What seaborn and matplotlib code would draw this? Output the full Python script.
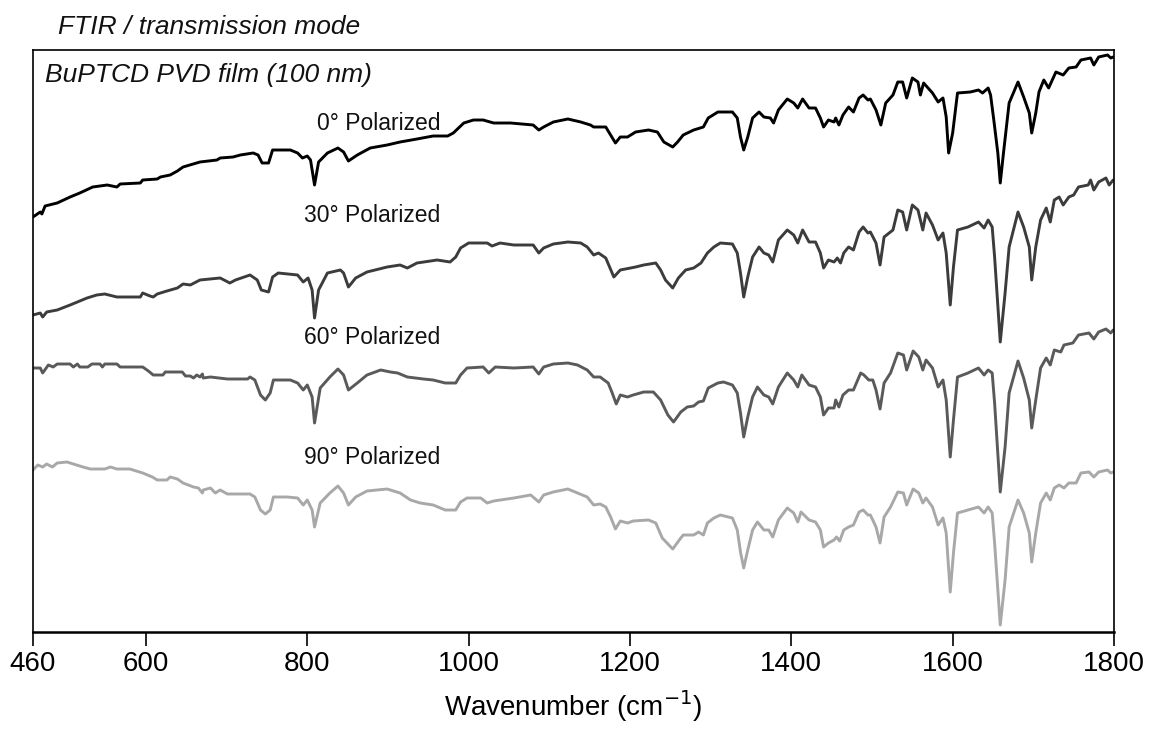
import pandas as pd
import matplotlib.pyplot as plt
import seaborn as sns

# wavenumber (cm-1) and transmission (a.u., offset per trace)
wn_0 = [460, 469, 471, 475, 490, 506, 518, 534, 552, 564, 568, 593, 596, 614, 618, 630, 639, 646,
        667, 688, 692, 708, 717, 733, 739, 744, 752, 757, 779, 788, 794, 800, 804, 809, 814, 825,
        838, 845, 851, 862, 878, 899, 915, 936, 956, 974, 981, 994, 1006, 1018, 1031, 1052, 1080,
        1087, 1093, 1105, 1123, 1139, 1151, 1155, 1170, 1176, 1182, 1188, 1197, 1207, 1223, 1234,
        1242, 1253, 1259, 1266, 1279, 1291, 1297, 1309, 1327, 1333, 1337, 1341, 1346, 1352, 1360,
        1366, 1374, 1378, 1384, 1395, 1403, 1408, 1414, 1422, 1430, 1436, 1440, 1446, 1453, 1455,
        1459, 1464, 1471, 1477, 1484, 1489, 1495, 1498, 1505, 1511, 1517, 1526, 1532, 1538, 1543,
        1550, 1557, 1560, 1564, 1575, 1582, 1588, 1592, 1595, 1600, 1606, 1622, 1632, 1637, 1644,
        1647, 1651, 1656, 1659, 1663, 1670, 1681, 1688, 1695, 1698, 1703, 1707, 1713, 1719, 1728,
        1737, 1744, 1753, 1759, 1771, 1775, 1781, 1792, 1796, 1799]
t_0 = [415, 420, 418, 426, 429, 435, 439, 445, 447, 445, 448, 449, 452, 453, 455, 457, 461, 465,
       470, 472, 474, 475, 477, 479, 477, 469, 469, 482, 482, 479, 474, 476, 472, 447, 470, 479,
       484, 480, 471, 477, 484, 487, 490, 493, 496, 496, 499, 509, 512, 512, 509, 509, 507,
       502, 505, 510, 513, 510, 507, 505, 505, 497, 489, 495, 495, 500, 502, 500,
       490, 485, 490, 497, 502, 505, 514, 520, 520, 514, 495, 482, 495, 514, 520,
       515, 514, 509, 522, 533, 529, 524, 533, 524, 524, 514, 505, 512, 510, 514,
       507, 517, 525, 520, 534, 537, 532, 533, 522, 507, 529, 537, 550, 550, 534,
       554, 550, 537, 549, 539, 530, 534, 515, 479, 499, 539, 540, 542, 539, 544,
       537, 512, 479, 449, 479, 529, 550, 535, 519, 499, 519, 540, 552, 544, 560,
       557, 564, 565, 572, 574, 567, 575, 577, 574, 575]

wn_30 = [460, 469, 472, 477, 490, 506, 515, 527, 539, 549, 564, 593, 596, 605, 609, 614, 626, 639,
         646, 655, 667, 692, 704, 711, 729, 738, 743, 752, 757, 764, 788, 795, 801, 806, 809, 814,
         825, 841, 845, 851, 860, 874, 899, 915, 924, 936, 961, 977, 984, 990, 1000, 1023, 1029,
         1039, 1056, 1080, 1087, 1093, 1105, 1123, 1139, 1147, 1155, 1161, 1170, 1180, 1188, 1201,
         1207, 1217, 1232, 1238, 1244, 1253, 1260, 1269, 1279, 1288, 1296, 1304, 1312, 1327, 1333,
         1337, 1341, 1346, 1352, 1360, 1366, 1372, 1377, 1384, 1395, 1403, 1408, 1414, 1422, 1430,
         1436, 1440, 1446, 1453, 1457, 1461, 1465, 1471, 1477, 1484, 1489, 1495, 1498, 1505, 1510,
         1515, 1526, 1532, 1538, 1543, 1550, 1557, 1563, 1567, 1575, 1582, 1588, 1592, 1597, 1601,
         1606, 1619, 1632, 1639, 1644, 1649, 1652, 1659, 1665, 1670, 1681, 1688, 1695, 1698, 1703,
         1709, 1716, 1721, 1726, 1732, 1737, 1744, 1750, 1756, 1768, 1771, 1775, 1781, 1790, 1794,
         1799]
t_30 = [317, 319, 315, 320, 322, 327, 330, 334, 337, 338, 335, 335, 339, 336, 335, 338, 341, 344,
        348, 347, 352, 354, 349, 352, 357, 352, 342, 340, 355, 359, 357, 350, 354, 342, 314, 342,
        359, 362, 359, 345, 354, 360, 365, 367, 364, 369, 372, 370, 375, 384, 389, 389, 386,
        389, 387, 387, 379, 384, 388, 390, 389, 385, 377, 379, 374, 355, 362, 364,
        365, 367, 369, 362, 352, 344, 354, 362, 364, 369, 379, 385, 389, 388, 379,
        359, 335, 355, 375, 385, 379, 377, 370, 392, 402, 397, 389, 402, 390, 390,
        379, 364, 372, 370, 374, 369, 379, 385, 382, 400, 405, 399, 400, 389, 367,
        395, 402, 422, 420, 402, 427, 422, 402, 419, 407, 392, 399, 379, 327, 365,
        402, 405, 410, 404, 412, 405, 375, 290, 339, 385, 420, 405, 385, 352, 385,
        412, 424, 410, 432, 435, 427, 435, 437, 445, 447, 452, 442, 450, 454, 447,
        452]

wn_60 = [460, 469, 472, 479, 485, 490, 506, 510, 515, 518, 528, 533, 543, 546, 549, 564, 568, 596,
         603, 609, 621, 624, 645, 649, 655, 659, 663, 667, 670, 671, 680, 701, 726, 729, 735, 742,
         748, 754, 758, 779, 788, 795, 800, 806, 809, 816, 828, 838, 845, 851, 862, 874, 891, 903,
         912, 924, 944, 956, 971, 984, 990, 998, 1018, 1025, 1033, 1056, 1080, 1087, 1093, 1105,
         1123, 1135, 1147, 1155, 1163, 1173, 1178, 1183, 1188, 1197, 1204, 1217, 1229, 1238, 1247,
         1254, 1263, 1271, 1279, 1285, 1291, 1297, 1309, 1316, 1327, 1333, 1337, 1341, 1346, 1352,
         1358, 1366, 1372, 1377, 1384, 1395, 1403, 1408, 1413, 1422, 1430, 1436, 1440, 1446, 1453,
         1455, 1459, 1464, 1471, 1477, 1486, 1490, 1496, 1501, 1505, 1510, 1515, 1523, 1532, 1539,
         1543, 1551, 1558, 1563, 1567, 1575, 1582, 1588, 1592, 1597, 1601, 1606, 1619, 1632, 1639,
         1644, 1649, 1652, 1659, 1665, 1670, 1681, 1688, 1695, 1698, 1703, 1709, 1716, 1721, 1726,
         1734, 1738, 1749, 1756, 1769, 1775, 1781, 1790, 1796, 1799]
t_60 = [264, 264, 259, 267, 265, 268, 268, 265, 268, 265, 265, 268, 268, 265, 268, 268, 265, 265,
        261, 257, 257, 260, 260, 256, 256, 254, 257, 255, 258, 254, 255, 253, 253, 255, 252, 237,
        232, 239, 252, 252, 249, 242, 247, 235, 209, 244, 255, 263, 257, 242, 249, 257, 262, 260,
        259, 255, 253, 252, 249, 249, 257, 264, 265, 259, 265, 264, 265, 258, 265, 268,
        269, 267, 262, 255, 255, 249, 239, 228, 237, 235, 237, 240, 240, 232, 217,
        210, 220, 225, 226, 230, 231, 244, 249, 250, 247, 239, 219, 195, 215, 235,
        245, 237, 235, 228, 245, 259, 252, 245, 257, 247, 245, 235, 217, 224, 224,
        232, 225, 237, 242, 242, 259, 257, 252, 252, 242, 223, 249, 259, 279, 277,
        262, 281, 275, 262, 272, 264, 245, 252, 232, 175, 212, 255, 259, 264, 257,
        262, 259, 229, 140, 185, 239, 271, 254, 232, 204, 232, 264, 274, 267, 282,
        280, 287, 289, 297, 299, 293, 300, 303, 299, 302]

wn_90 = [460, 466, 472, 477, 484, 490, 502, 510, 522, 531, 549, 556, 564, 580, 596, 608, 614, 626,
         630, 639, 646, 659, 665, 670, 671, 680, 686, 692, 701, 729, 735, 742, 748, 754, 758, 775,
         788, 795, 800, 806, 809, 816, 828, 838, 845, 851, 860, 874, 899, 915, 928, 940, 956, 971,
         984, 990, 998, 1015, 1023, 1031, 1056, 1077, 1087, 1093, 1105, 1123, 1135, 1147, 1155,
         1163, 1170, 1176, 1182, 1188, 1197, 1204, 1223, 1232, 1240, 1253, 1263, 1266, 1279, 1285,
         1291, 1296, 1304, 1312, 1327, 1333, 1337, 1341, 1346, 1352, 1358, 1366, 1372, 1377, 1384,
         1395, 1403, 1408, 1412, 1422, 1430, 1436, 1440, 1446, 1453, 1456, 1460, 1465, 1471, 1477,
         1484, 1489, 1495, 1498, 1505, 1510, 1515, 1523, 1532, 1539, 1543, 1551, 1558, 1563, 1567,
         1575, 1582, 1588, 1592, 1597, 1601, 1606, 1619, 1632, 1639, 1644, 1649, 1652, 1659, 1665,
         1670, 1681, 1688, 1695, 1698, 1703, 1709, 1716, 1721, 1726, 1732, 1738, 1744, 1753, 1759,
         1769, 1775, 1781, 1792, 1796, 1799]
t_90 = [162, 167, 165, 168, 165, 169, 170, 168, 165, 163, 163, 165, 163, 163, 159, 155, 152, 152,
        155, 153, 149, 145, 144, 139, 142, 144, 139, 142, 138, 138, 135, 122, 118, 122, 135, 135,
        134, 127, 132, 122, 105, 129, 139, 146, 139, 127, 135, 141, 143, 139, 132, 129, 127, 122,
        122, 130, 134, 134, 129, 131, 134, 137, 130, 137, 140, 143, 139, 135, 127,
        128, 125, 115, 103, 111, 109, 111, 112, 109, 94, 83, 94, 97, 97, 100,
        97, 109, 114, 117, 114, 102, 80, 64, 82, 102, 110, 102, 102, 95, 112,
        124, 119, 110, 120, 112, 110, 102, 85, 89, 92, 95, 91, 102, 105, 107,
        120, 122, 117, 117, 105, 89, 115, 125, 140, 139, 127, 143, 139, 129, 134,
        125, 107, 114, 99, 40, 79, 119, 122, 125, 119, 125, 119, 89, 7, 52,
        105, 132, 119, 99, 70, 99, 129, 139, 132, 144, 147, 144, 149, 149, 159,
        160, 155, 160, 162, 159, 160]

angles = ['0° Polarized', '30° Polarized', '60° Polarized', '90° Polarized']
colors = ['#000000', '#3c3c3c', '#5a5a5a', '#a8a8a8']
label_y = [509, 416, 294, 174]
x_ticks = [460, 600, 800, 1000, 1200, 1400, 1600, 1800]

frames = []
for name, wn, t in zip(angles, [wn_0, wn_30, wn_60, wn_90], [t_0, t_30, t_60, t_90]):
    frames.append(pd.DataFrame({'wavenumber': wn, 'T': t, 'angle': name}))
df = pd.concat(frames, ignore_index=True)

sns.set_theme(style='white')
plt.rcParams['font.family'] = ['Liberation Sans', 'DejaVu Sans']

fig = plt.figure(figsize=(11.54, 7.29), dpi=100)
ax = fig.add_axes([33 / 1154, 97 / 729, 1081 / 1154, 582 / 729])

sns.lineplot(data=df, x='wavenumber', y='T', hue='angle', palette=colors,
             sort=False, estimator=None, linewidth=2.1, legend=False, ax=ax)

ax.set_xlim(460, 1800)
ax.set_ylim(0, 582)
ax.set_xticks(x_ticks)
ax.set_xticklabels([str(v) for v in x_ticks], fontsize=20, color='black')
ax.set_yticks([])
ax.set_ylabel('')
ax.set_xlabel('Wavenumber (cm$^{-1}$)', fontsize=20, labelpad=8, color='black')
ax.tick_params(axis='x', direction='out', length=10, width=1.2, color='black',
               bottom=True, pad=4)
for side in ['left', 'right', 'top', 'bottom']:
    ax.spines[side].set_color('black')
    ax.spines[side].set_linewidth(1.2)
ax.spines['bottom'].set_linewidth(1.8)

for name, y in zip(angles, label_y):
    ax.text(965, y, name, ha='right', va='center', fontsize=16.5, color='#111111')

ax.text(0.011, 0.957, 'BuPTCD PVD film (100 nm)', transform=ax.transAxes,
        ha='left', va='center', fontsize=19, style='italic', color='#111111')
fig.text(58 / 1154, 1 - 27 / 729, 'FTIR / transmission mode', ha='left', va='center',
         fontsize=19, style='italic', color='#111111')

fig.savefig('out.png', dpi=100, facecolor='white')
